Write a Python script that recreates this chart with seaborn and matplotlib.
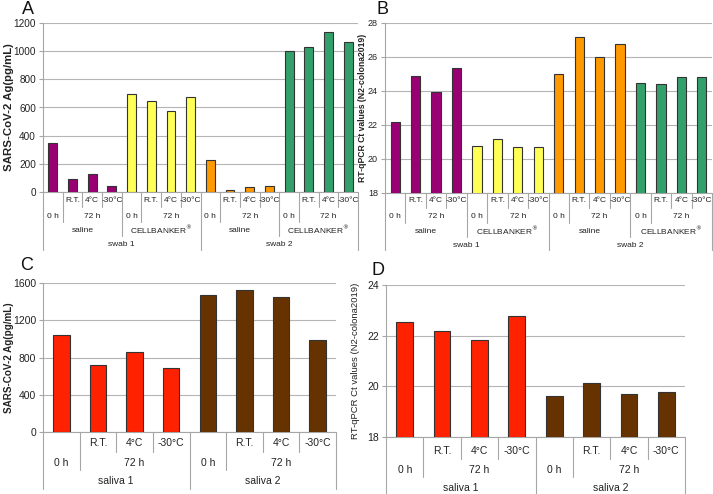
import numpy as np
import matplotlib
matplotlib.use('Agg')
import matplotlib.pyplot as plt
import matplotlib.transforms as mtransforms
import seaborn as sns

# swab samples (panels A, B)
swab_ag = [345, 90, 128, 45, 695, 645, 578, 675, 228, 12, 37, 43, 1000, 1027, 1135, 1065]
swab_ct = [22.2, 24.9, 23.95, 25.35, 20.75, 21.15, 20.7, 20.7,
           25.0, 27.15, 26.0, 26.75, 24.45, 24.4, 24.8, 24.85]
swab_colors = ['#990073'] * 4 + ['#FFFF55'] * 4 + ['#FF9900'] * 4 + ['#33A06B'] * 4

# saliva samples (panels C, D)
saliva_ag = [1040, 715, 855, 690, 1475, 1530, 1455, 985]
saliva_ct = [22.55, 22.2, 21.82, 22.78, 19.62, 20.15, 19.7, 19.78]
saliva_colors = ['#FF2200'] * 4 + ['#663300'] * 4

cond_labels = ['', 'R.T.', '4°C', '-30°C']
time_labels = ['0 h', '72 h', '72 h', '72 h']
medium_labels = ['saline', 'CELLBANKER$^{\\circledR}$']
swab_labels = ['swab 1', 'swab 2']
saliva_labels = ['saliva 1', 'saliva 2']

swab_levels = [cond_labels * 4,
               time_labels * 4,
               [m for _ in swab_labels for m in medium_labels for _ in range(4)],
               [s for s in swab_labels for _ in range(8)]]
saliva_levels = [cond_labels * 2,
                 time_labels * 2,
                 [s for s in saliva_labels for _ in range(4)]]

W, H = 713, 494
sns.set_style('white')
plt.rcParams['font.family'] = ['Liberation Sans', 'DejaVu Sans']
fig = plt.figure(figsize=(W / 100, H / 100), dpi=100)
LINE = '#a6a6a6'
TEXT = '#222222'


def px_axes(left, top, right, bottom):
    return fig.add_axes([left / W, 1 - bottom / H, (right - left) / W, (bottom - top) / H])


def fy(ypix):
    return 1 - ypix / H


def bar_panel(ax, values, colors, ylim, yticks, tick_fs):
    ids = [f'c{i}' for i in range(len(values))]
    sns.barplot(x=ids, y=values, hue=ids, palette=dict(zip(ids, colors)), legend=False,
                saturation=1, width=0.45, edgecolor='#333333', linewidth=0.8, ax=ax, zorder=3)
    ax.set_xlim(-0.5, len(values) - 0.5)
    ax.set_ylim(*ylim)
    ax.set_yticks(yticks)
    ax.set_xticks([])
    ax.set_xlabel('')
    ax.yaxis.grid(True, color='#b5b5b5', lw=0.8)
    ax.set_axisbelow(True)
    for s in ['top', 'right', 'bottom']:
        ax.spines[s].set_visible(False)
    ax.spines['left'].set_color(LINE)
    ax.tick_params(axis='y', length=3, width=0.8, color=LINE, labelsize=tick_fs, pad=2,
                   labelcolor=TEXT, left=True)


def set_ylabel(ax, text, xpix, fs, bold):
    ax.set_ylabel(text, fontsize=fs, fontweight='bold' if bold else 'normal', color=TEXT)
    ax.yaxis.set_label_coords(
        xpix / W, 0.5, transform=mtransforms.blended_transform_factory(fig.transFigure, ax.transAxes))
    ax.yaxis.label.set_va('center')


def level_labels(ax, levels, axis_bottom, row_y, row_bottom, fs):
    n = len(levels[0])
    trans = mtransforms.blended_transform_factory(ax.transData, fig.transFigure)
    for k, lev in enumerate(levels):
        keys = [tuple(l[i] for l in levels[k:]) for i in range(n)]
        start = 0
        for i in range(1, n + 1):
            if i == n or keys[i] != keys[start]:
                ax.text((start + i - 1) / 2, fy(row_y[k]), lev[start], transform=trans,
                        ha='center', va='center', fontsize=fs, color=TEXT)
                start = i
    for b in range(n + 1):
        if b == 0 or b == n:
            depth = len(levels)
        else:
            depth = max(k + 1 for k in range(len(levels)) if levels[k][b - 1] != levels[k][b])
        ax.plot([b - 0.5, b - 0.5], [fy(axis_bottom), fy(row_bottom[depth - 1])],
                transform=trans, color=LINE, lw=0.8, clip_on=False)
    ax.plot([-0.5, n - 0.5], [fy(axis_bottom)] * 2, transform=trans, color=LINE, lw=0.8,
            clip_on=False)


ct_label = 'RT-qPCR Ct values (N2-colona2019)'
ag_label = 'SARS-CoV-2 Ag(pg/mL)'

# A
axA = px_axes(43, 23, 358, 192)
bar_panel(axA, swab_ag, swab_colors, (0, 1200), range(0, 1201, 200), 7.2)
set_ylabel(axA, ag_label, 9, 8.2, True)
level_labels(axA, swab_levels, 192, [200, 216, 230, 244], [207, 222, 236, 250], 6)

# B
axB = px_axes(385, 23, 712, 193)
bar_panel(axB, swab_ct, swab_colors, (18, 28), range(18, 29, 2), 6.5)
set_ylabel(axB, ct_label, 362, 6.2, True)
level_labels(axB, swab_levels, 193, [201, 217, 231, 245], [208, 223, 237, 250], 6)

# C
axC = px_axes(43, 283, 336, 432)
bar_panel(axC, saliva_ag, saliva_colors, (0, 1600), range(0, 1601, 400), 7.5)
set_ylabel(axC, ag_label, 9, 7.1, True)
level_labels(axC, saliva_levels, 432, [443, 463, 481], [452, 470, 489], 7.5)

# D
axD = px_axes(386, 285, 685, 437)
bar_panel(axD, saliva_ct, saliva_colors, (18, 24), range(18, 25, 2), 7.5)
set_ylabel(axD, ct_label, 356, 6.8, False)
level_labels(axD, saliva_levels, 437, [451, 470, 488], [459, 477, 494], 7.5)

for letter, x, y in [('A', 28, 9), ('B', 383, 10), ('C', 27, 265), ('D', 378, 270)]:
    fig.text(x / W, fy(y), letter, fontsize=13, ha='center', va='center', color='#111111')

fig.savefig('out.png', dpi=100, facecolor='white')
